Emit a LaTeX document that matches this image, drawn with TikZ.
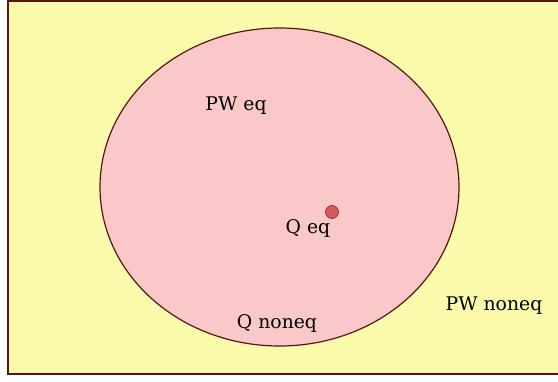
\documentclass[tikz,border=0pt]{standalone}
\usepackage{fontspec}
\setmainfont{DejaVu Serif}
\usetikzlibrary{shapes.geometric}
\begin{document}
\begin{tikzpicture}[x=1pt,y=-1pt,
  lbl/.style={font=\fontsize{18.8}{21}\selectfont, text=black, inner sep=0pt}]
\useasboundingbox (0,0) rectangle (558,381);
\definecolor{edge}{RGB}{90,20,20}
\definecolor{yel}{RGB}{250,250,170}
\definecolor{pnk}{RGB}{250,200,200}
\definecolor{dotc}{RGB}{210,90,90}
\fill[yel] (8,1) rectangle (570,374);
\draw[edge, line width=2pt] (570,1) -- (8,1) -- (8,374) -- (570,374);
\node[draw=edge, fill=pnk, line width=1.2pt, ellipse, minimum width=359, minimum height=318, inner sep=0pt] (U) at (279.5,187) {};
\node[circle, fill=dotc, draw=dotc!70!black, line width=0.8pt, minimum size=13, inner sep=0pt] (d) at (332,212) {};
\node[lbl] (pweq) at (236,105.5) {PW eq};
\node[lbl] (qeq) at (308,228.5) {Q eq};
\node[lbl] (qne) at (277,323.5) {Q noneq};
\node[lbl] (pwne) at (494,305.5) {PW noneq};
\end{tikzpicture}
\end{document}
